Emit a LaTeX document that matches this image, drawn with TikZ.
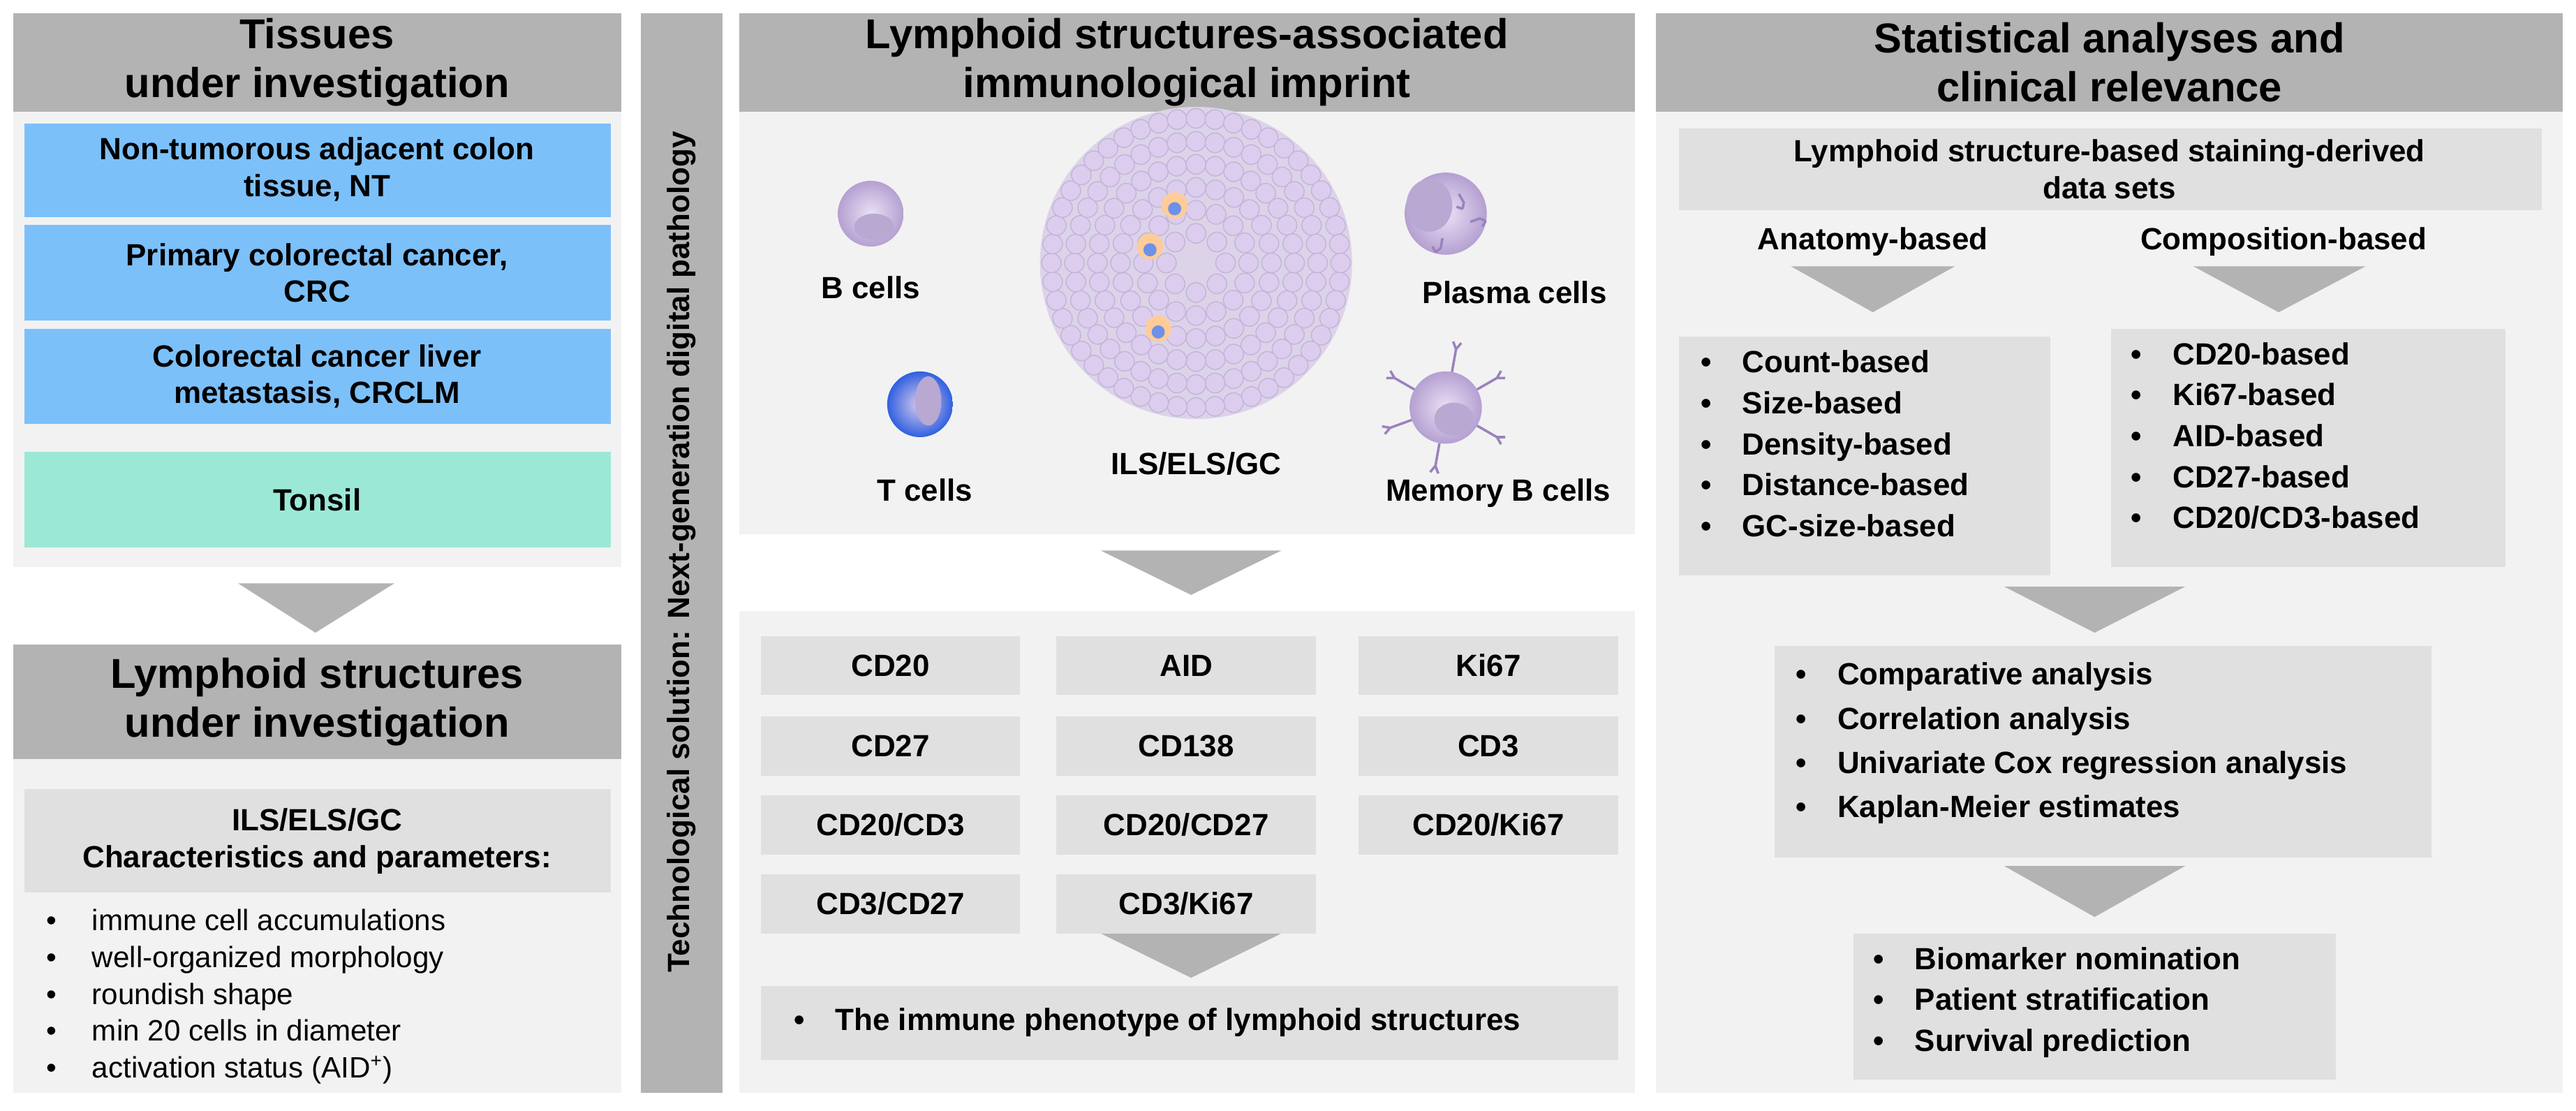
\documentclass[tikz,border=0pt]{standalone}
\usepackage{fontspec}
\setmainfont{Liberation Sans}
\usetikzlibrary{shapes.geometric}
\definecolor{hdr}{HTML}{B3B3B3}
\definecolor{pan}{HTML}{F2F2F2}
\definecolor{box}{HTML}{E0E0E0}
\definecolor{blu}{HTML}{7CC0FA}
\definecolor{grn}{HTML}{9BE8D6}
\definecolor{lav}{HTML}{DCCDEE}
\definecolor{lavd}{HTML}{9A82BE}
\definecolor{tblue}{HTML}{3060E0}
\begin{document}
\begin{tikzpicture}[x=0.023533cm,y=-0.023533cm,
 hd/.style={fill=hdr,draw=none,font=\fontsize{17}{20}\selectfont\bfseries,align=center,inner sep=0},
 tb/.style={draw=none,font=\fontsize{12.5}{15}\selectfont\bfseries,align=center,inner sep=0},
 lab/.style={font=\fontsize{12.5}{15}\selectfont\bfseries},
 dn/.style={fill=hdr,draw=none},
 ball/.style={inner color=lav!60,outer color=lavd!60!lav},
 cell/.style={circle,fill=lav,draw=lavd!60,line width=0.4pt,inner sep=0,minimum size=8pt}]
\useasboundingbox (0,0) rectangle (1568,676);
\fill[white] (0,0) rectangle (1568,676);
% panels
\fill[pan] (8,68) rectangle (378,345);
\fill[pan] (8,462) rectangle (378,665);
\fill[pan] (450,68) rectangle (995,325);
\fill[pan] (450,372) rectangle (995,665);
\fill[pan] (1008,68) rectangle (1560,665);
% headers
\path[hd] (8,8) rectangle (378,68) node[pos=.5] (h1) {Tissues\\under investigation};
\path[hd] (8,392) rectangle (378,462) node[pos=.5] (h2) {Lymphoid structures\\under investigation};
\path[hd] (450,8) rectangle (995,68) node[pos=.5] (h3) {Lymphoid structures-associated\\immunological imprint};
\path[hd] (1008,8) rectangle (1560,68) node[pos=.5] (h4) {Statistical analyses and\\clinical relevance};
\fill[hdr] (390,8) rectangle (440,665);
\node[rotate=90,font=\fontsize{12.5}{15}\selectfont\bfseries] (vt) at (415,336) {Technological solution: Next-generation digital pathology};
% tissue boxes
\fill[blu] (15,75) rectangle (372,132); \node[tb] (nt) at (193,103) {Non-tumorous adjacent colon\\tissue, NT};
\fill[blu] (15,137) rectangle (372,195); \node[tb] (crc) at (193,166) {Primary colorectal cancer,\\CRC};
\fill[blu] (15,200) rectangle (372,258); \node[tb] (crclm) at (193,229) {Colorectal cancer liver\\metastasis, CRCLM};
\fill[grn] (15,275) rectangle (372,333); \node[tb] (ton) at (193,304) {Tonsil};
% arrows
\fill[dn] (145,355) -- (240,355) -- (192,385) -- cycle;
\fill[dn] (670,335) -- (780,335) -- (725,362) -- cycle;
\fill[dn] (670,568) -- (780,568) -- (725,595) -- cycle;
\fill[dn] (1090,162) -- (1190,162) -- (1140,190) -- cycle;
\fill[dn] (1335,162) -- (1440,162) -- (1387,190) -- cycle;
\fill[dn] (1220,357) -- (1330,357) -- (1275,385) -- cycle;
\fill[dn] (1220,527) -- (1330,527) -- (1275,558) -- cycle;
% lymphoid char
\fill[box] (15,480) rectangle (372,543); \node[tb] (ch) at (193,512) {ILS/ELS/GC\\Characteristics and parameters:};
\node[anchor=north west,align=left,font=\fontsize{12}{15}\selectfont,inner sep=0] (bl) at (28,553) {%
\textbullet\hspace{1.2em}immune cell accumulations\\
\textbullet\hspace{1.2em}well-organized morphology\\
\textbullet\hspace{1.2em}roundish shape\\
\textbullet\hspace{1.2em}min 20 cells in diameter\\
\textbullet\hspace{1.2em}activation status (AID\textsuperscript{+})};
% staining boxes
\foreach \t/\x/\y [count=\i] in {CD20/463/387,AID/643/387,Ki67/827/387,CD27/463/436,CD138/643/436,CD3/827/436,CD20\slash CD3/463/484,CD20\slash CD27/643/484,CD20\slash Ki67/827/484,CD3\slash CD27/463/532,CD3\slash Ki67/643/532}{
 \fill[box] (\x,\y) rectangle ++(158,36);
 \node[tb] (s\i) at (\x+79,\y+18) {\t};}
\fill[box] (463,600) rectangle (985,645);
\node[lab,anchor=west] (ip) at (478,622) {\textbullet\hspace{1em}The immune phenotype of lymphoid structures};
% cells
\shade[ball] (530,130) circle (20);
\fill[lavd!70] (532,138) ellipse (12 and 8);
\node[lab] (bc) at (530,175) {B cells};
\shade[inner color=lav,outer color=tblue] (560,246) circle (20);
\fill[lavd!70] (565,244) ellipse (8 and 15);
\node[lab] (tc) at (563,298) {T cells};
\shade[ball] (880,130) circle (25);
\fill[lavd!70] (870,125) ellipse (14 and 16);
\foreach \p/\a in {{(888,118)}/60,{(895,135)}/-20,{(878,145)}/100}{\draw[lavd,line width=1pt] \p -- ++(\a:6) -- ++(\a+40:4) ++(\a+140:4) -- ++(\a-40:4);}
\node[lab] (pc) at (922,178) {Plasma cells};
\foreach \a in {30,100,160,210,280,330}{\draw[lavd,line width=1pt] (880,248) ++(\a:22) -- ++(\a:14) ++(\a+30:5) -- ++(\a+210:5) -- ++(\a-30:5);}
\shade[ball] (880,248) circle (22);
\fill[lavd!70] (885,255) ellipse (12 and 10);
\node[lab] (mb) at (912,300) {Memory B cells};
% ILS
\begin{scope}[shift={(728,160)}]
\fill[lavd!35] (0,0) circle (95);
\foreach \k in {1,...,48}{\node[cell] at (\k*7.5:88) {};}
\foreach \k in {1,...,40}{\node[cell] at (\k*9:74) {};}
\foreach \k in {1,...,32}{\node[cell] at (\k*11.25:60) {};}
\foreach \k in {1,...,24}{\node[cell] at (\k*15:46) {};}
\foreach \k in {1,...,16}{\node[cell] at (\k*22.5:32) {};}
\foreach \k in {1,...,8}{\node[cell] at (\k*45:18) {};}
\fill[orange!40] (-28,-10) circle (8); \fill[tblue!70] (-28,-8) circle (4);
\fill[orange!40] (-13,-35) circle (8); \fill[tblue!70] (-13,-33) circle (4);
\fill[orange!40] (-23,40) circle (8); \fill[tblue!70] (-23,42) circle (4);
\end{scope}
\node[lab] (ils) at (728,282) {ILS/ELS/GC};
% right column
\fill[box] (1022,78) rectangle (1547,128); \node[tb] (ds) at (1284,103) {Lymphoid structure-based staining-derived\\data sets};
\node[lab] (ab) at (1140,147) {Anatomy-based};
\node[lab] (cb) at (1390,147) {Composition-based};
\fill[box] (1022,205) rectangle (1248,350);
\node[anchor=north west,align=left,font=\fontsize{12.5}{16.7}\selectfont\bfseries,inner sep=0] (al) at (1035,213) {%
\textbullet\hspace{1em}Count-based\\\textbullet\hspace{1em}Size-based\\\textbullet\hspace{1em}Density-based\\\textbullet\hspace{1em}Distance-based\\\textbullet\hspace{1em}GC-size-based};
\fill[box] (1285,200) rectangle (1525,345);
\node[anchor=north west,align=left,font=\fontsize{12.5}{16.7}\selectfont\bfseries,inner sep=0] (cl) at (1297,208) {%
\textbullet\hspace{1em}CD20-based\\\textbullet\hspace{1em}Ki67-based\\\textbullet\hspace{1em}AID-based\\\textbullet\hspace{1em}CD27-based\\\textbullet\hspace{1em}CD20/CD3-based};
\fill[box] (1080,393) rectangle (1480,522);
\node[anchor=north west,align=left,font=\fontsize{12.5}{18}\selectfont\bfseries,inner sep=0] (an) at (1093,403) {%
\textbullet\hspace{1em}Comparative analysis\\\textbullet\hspace{1em}Correlation analysis\\\textbullet\hspace{1em}Univariate Cox regression analysis\\\textbullet\hspace{1em}Kaplan-Meier estimates};
\fill[box] (1128,568) rectangle (1422,657);
\node[anchor=north west,align=left,font=\fontsize{12.5}{16.7}\selectfont\bfseries,inner sep=0] (bm) at (1140,576) {%
\textbullet\hspace{1em}Biomarker nomination\\\textbullet\hspace{1em}Patient stratification\\\textbullet\hspace{1em}Survival prediction};
\end{tikzpicture}
\end{document}
